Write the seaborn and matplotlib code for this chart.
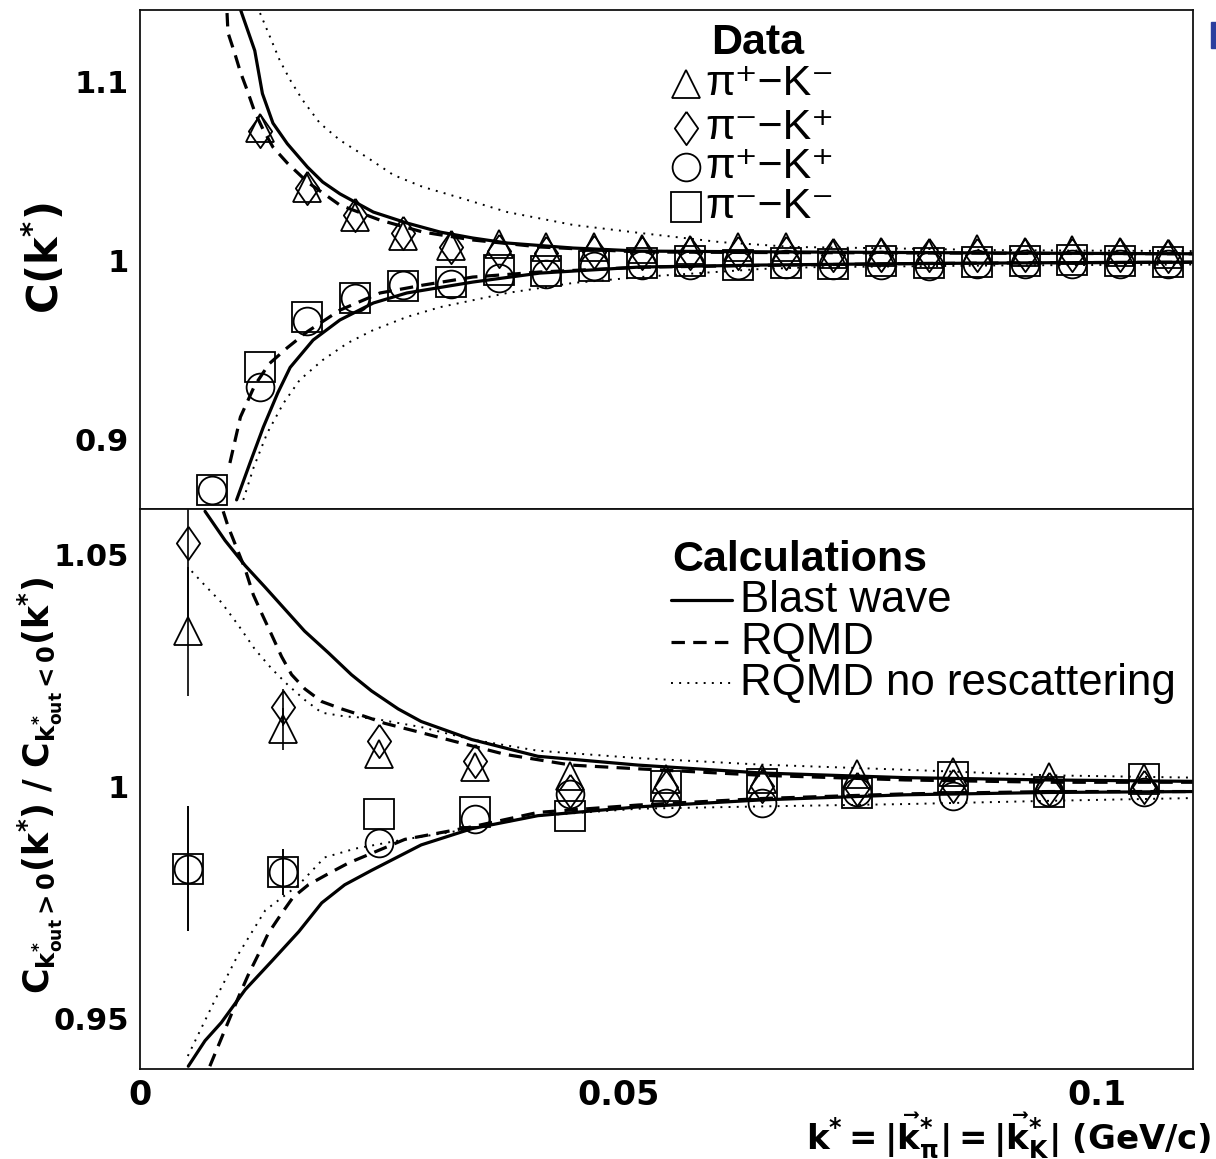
import numpy as np
import pandas as pd
import matplotlib
matplotlib.use("Agg")
import matplotlib.pyplot as plt
import seaborn as sns
from matplotlib.lines import Line2D
from matplotlib.patches import Rectangle

# ---------------- data: top panel (C(k*)) ----------------
k_top = [0.0075, 0.0125, 0.0175, 0.0225, 0.0275, 0.0325, 0.0375, 0.0425, 0.0475, 0.0525, 0.0575,
         0.0625, 0.0675, 0.0725, 0.0775, 0.0825, 0.0875, 0.0925, 0.0975, 0.1025, 0.1075]
top_tri = [np.nan, 1.074, 1.040, 1.024, 1.0134, 1.0078, 1.009, 1.0073, 1.0073, 1.006, 1.0056,
           1.0073, 1.0073, 1.0034, 1.0045, 1.0034, 1.006, 1.0045, 1.0056, 1.0045, 1.0034]
top_dia = [np.nan, 1.072, 1.040, 1.025, 1.015, 1.0073, 1.005, 1.004, 1.0045, 1.004, 1.004,
           1.004, 1.004, 1.003, 1.003, 1.003, 1.003, 1.003, 1.003, 1.003, 1.002]
top_circ = [0.8715, 0.929, 0.966, 0.979, 0.986, 0.9866, 0.990, 0.992, 0.9966, 0.997, 0.997,
            0.9975, 0.998, 0.997, 0.997, 0.9966, 0.998, 0.998, 0.998, 0.998, 0.998]
top_sq = [0.8715, 0.940, 0.968, 0.979, 0.9855, 0.9877, 0.9944, 0.9939, 0.9966, 0.9983, 0.9994,
          0.9975, 0.9985, 0.998, 0.9994, 0.9983, 0.999, 0.9995, 1.0, 0.9994, 0.9989]

top_bw_up_x = [0.0105, 0.0120, 0.0128, 0.0139, 0.0154, 0.0175, 0.0191, 0.0209, 0.0244, 0.0279, 0.0314, 0.0348, 0.0384, 0.0453, 0.0523, 0.0650, 0.0800, 0.0950, 0.1101]
top_bw_up_y = [1.140, 1.117, 1.093, 1.0765, 1.065, 1.052, 1.0436, 1.037, 1.0268, 1.0207, 1.0156, 1.0123, 1.0095, 1.0067, 1.0050, 1.0046, 1.0042, 1.0038, 1.0035]
top_bw_lo_x = [0.0101, 0.0115, 0.0129, 0.0144, 0.0157, 0.0181, 0.0209, 0.0244, 0.0279, 0.0348, 0.0418, 0.0523, 0.0650, 0.0800, 0.0950, 0.1101]
top_bw_lo_y = [0.866, 0.8866, 0.9067, 0.9257, 0.940, 0.9553, 0.9665, 0.976, 0.9816, 0.9877, 0.9927, 0.9961, 0.9972, 0.998, 0.9985, 0.9988]
top_rq_up_x = [0.0091, 0.0092, 0.0099, 0.0105, 0.0112, 0.0120, 0.0129, 0.0139, 0.0154, 0.0175, 0.0209, 0.0251, 0.0296, 0.0348, 0.0418, 0.0523, 0.0650, 0.0800, 0.0950, 0.1101]
top_rq_up_y = [1.138, 1.127, 1.1156, 1.105, 1.095, 1.0827, 1.0726, 1.0631, 1.0542, 1.0436, 1.0307, 1.0223, 1.0156, 1.0112, 1.0073, 1.0045, 1.0042, 1.0040, 1.0037, 1.0035]
top_rq_lo_x = [0.0094, 0.0105, 0.0120, 0.0135, 0.0154, 0.0175, 0.0209, 0.0251, 0.0296, 0.0348, 0.0418, 0.0523, 0.0650, 0.0800, 0.0950, 0.1101]
top_rq_lo_y = [0.8866, 0.9123, 0.930, 0.942, 0.951, 0.960, 0.972, 0.9816, 0.986, 0.9905, 0.9933, 0.996, 0.997, 0.998, 0.9985, 0.9988]
top_nr_up_x = [0.01255, 0.0136, 0.0146, 0.0157, 0.0170, 0.0188, 0.0209, 0.0237, 0.0265, 0.0296, 0.0332, 0.0384, 0.0453, 0.0523, 0.0607, 0.0683, 0.0764, 0.0900, 0.1101]
top_nr_up_y = [1.138, 1.1246, 1.1117, 1.1006, 1.0894, 1.0765, 1.067, 1.0575, 1.0475, 1.0408, 1.0352, 1.0268, 1.0196, 1.0151, 1.010, 1.0073, 1.0067, 1.0055, 1.005]
top_nr_lo_x = [0.0108, 0.0119, 0.0133, 0.0150, 0.0167, 0.0191, 0.0217, 0.0244, 0.0279, 0.0314, 0.0384, 0.0453, 0.0523, 0.0649, 0.0704, 0.0900, 0.1101]
top_nr_lo_y = [0.866, 0.8844, 0.9033, 0.920, 0.933, 0.9441, 0.9536, 0.9609, 0.9682, 0.9737, 0.9816, 0.9872, 0.9905, 0.9950, 0.996, 0.997, 0.9975]

# ---------------- data: bottom panel (ratio) ----------------
k_bot = [0.005, 0.015, 0.025, 0.035, 0.045, 0.055, 0.065, 0.075, 0.085, 0.095, 0.105]
bot_tri = [1.0335, 1.0125, 1.0070, 1.0043, 1.0023, 1.0017, 1.0017, 1.0028, 1.0032, 1.0022, 1.0020]
bot_dia = [1.0525, 1.0172, 1.0098, 1.0055, 0.9992, 1.0000, 1.0002, 0.9995, 1.0002, 0.9995, 1.0000]
bot_circ = [0.9824, 0.9816, 0.9879, 0.9930, 0.9985, 0.9966, 0.9966, 0.9990, 0.9980, 0.9990, 0.9990]
bot_sq = [0.9824, 0.9816, 0.9941, 0.9945, 0.9937, 1.0002, 1.0006, 0.9987, 1.0021, 0.9989, 1.0017]
bot_tri_err = [0.014, 0.0045, 0, 0, 0, 0, 0, 0, 0, 0, 0]
bot_dia_err = [0.016, 0.004, 0, 0, 0, 0, 0, 0, 0, 0, 0]
bot_circ_err = [0.0135, 0.005, 0, 0, 0, 0, 0, 0, 0, 0, 0]
bot_sq_err = [0.0135, 0.005, 0, 0, 0, 0, 0, 0, 0, 0, 0]

bot_bw_up_x = [0.0068, 0.0089, 0.0110, 0.0131, 0.0148, 0.0172, 0.0197, 0.0221, 0.0242, 0.0270, 0.0294, 0.0347, 0.0416, 0.0521, 0.0650, 0.0800, 0.0950, 0.1101]
bot_bw_up_y = [1.0594, 1.0531, 1.0477, 1.043, 1.0391, 1.0336, 1.0289, 1.0242, 1.0207, 1.0168, 1.0141, 1.0102, 1.0066, 1.0047, 1.003, 1.002, 1.0015, 1.0012]
bot_bw_lo_x = [0.00505, 0.0068, 0.0085, 0.0110, 0.0138, 0.0166, 0.0190, 0.0214, 0.0242, 0.0294, 0.0347, 0.0416, 0.0521, 0.0650, 0.0800, 0.0950, 0.1101]
bot_bw_lo_y = [0.9398, 0.9453, 0.9492, 0.9563, 0.9625, 0.9688, 0.975, 0.9789, 0.982, 0.9875, 0.991, 0.9938, 0.9957, 0.9972, 0.9983, 0.9988, 0.999]
bot_rq_up_x = [0.0087, 0.0092, 0.0110, 0.01185, 0.0127, 0.01376, 0.0148, 0.01585, 0.01725, 0.0190, 0.0211, 0.0235, 0.0256, 0.0294, 0.0329, 0.0382, 0.0451, 0.0521, 0.0650, 0.0800, 0.0950, 0.1101]
bot_rq_up_y = [1.0594, 1.0562, 1.0469, 1.0414, 1.0375, 1.0328, 1.0281, 1.0242, 1.0211, 1.0184, 1.0168, 1.0152, 1.0137, 1.0117, 1.0098, 1.007, 1.0047, 1.0039, 1.0025, 1.0015, 1.001, 1.001]
bot_rq_lo_x = [0.0073, 0.0103, 0.0113, 0.0124, 0.0134, 0.0148, 0.0160, 0.0176, 0.0197, 0.0218, 0.0277, 0.0347, 0.0416, 0.0521, 0.0650, 0.0800, 0.0950, 0.1101]
bot_rq_lo_y = [0.9398, 0.9547, 0.9594, 0.964, 0.9684, 0.9727, 0.9762, 0.9789, 0.9813, 0.9836, 0.9887, 0.9914, 0.9945, 0.9961, 0.9975, 0.9985, 0.999, 0.999]
bot_nr_up_x = [0.0054, 0.0068, 0.0085, 0.0103, 0.0120, 0.0138, 0.0155, 0.0172, 0.0190, 0.0214, 0.0242, 0.0294, 0.0347, 0.0416, 0.0521, 0.0586, 0.0650, 0.0800, 0.0950, 0.1101]
bot_nr_up_y = [1.0465, 1.0434, 1.0398, 1.0348, 1.0297, 1.0254, 1.0219, 1.0188, 1.016, 1.0152, 1.0148, 1.0129, 1.0102, 1.0078, 1.0062, 1.0055, 1.0048, 1.0037, 1.0025, 1.002]
bot_nr_lo_x = [0.0050, 0.0078, 0.0103, 0.0131, 0.0166, 0.0193, 0.0225, 0.0277, 0.0347, 0.0416, 0.0521, 0.0650, 0.0800, 0.0950, 0.1101]
bot_nr_lo_y = [0.942, 0.9539, 0.964, 0.9734, 0.9789, 0.9848, 0.9867, 0.9887, 0.991, 0.9938, 0.9953, 0.9958, 0.9963, 0.997, 0.9976]

data_labels = ["π⁺−K⁻", "π⁻−K⁺", "π⁺−K⁺", "π⁻−K⁻"]
calc_labels = ["Blast wave", "RQMD", "RQMD no rescattering"]

# ---------------- style ----------------
sns.set_theme(style="white")
plt.rcParams["font.family"] = ["DejaVu Sans"]
plt.rcParams["mathtext.fontset"] = "dejavusans"
for key in ("text.color", "axes.labelcolor", "xtick.color", "ytick.color", "axes.edgecolor"):
    plt.rcParams[key] = "black"

W, H = 1216, 1159
def fx(px):
    return px / W
def fy(py):
    return 1 - py / H

fig = plt.figure(figsize=(W / 100, H / 100), dpi=100)
fig.patch.set_facecolor("white")
ax1 = fig.add_axes([fx(140), fy(509), (1193 - 140) / W, (509 - 10) / H])
ax2 = fig.add_axes([fx(140), fy(1069), (1193 - 140) / W, (1069 - 509) / H])

SOLID = dict(linewidth=2.3, linestyle="-")
DASHED = dict(linewidth=2.3, linestyle=(0, (4.2, 2.6)))
DOTTED = dict(linewidth=1.4, linestyle=(0, (1.0, 3.2)))

diamond = [(0, 1), (0.7, 0), (0, -1), (-0.7, 0), (0, 1)]
MARKERS = [("^", 20), (diamond, 24), ("o", 20), ("s", 21)]


def curve(ax, xs, ys, style):
    sns.lineplot(x=xs, y=ys, ax=ax, color="black", estimator=None, sort=False, **style)


def points(ax, xs, ys, marker, ms):
    sns.lineplot(x=xs, y=ys, ax=ax, color="black", estimator=None, sort=False,
                 marker=marker, linestyle="none", ms=ms, mfc="none", mec="black", mew=1.3)


for ax, curves, series, errs in [
    (ax1,
     [(top_bw_up_x, top_bw_up_y, SOLID), (top_bw_lo_x, top_bw_lo_y, SOLID),
      (top_rq_up_x, top_rq_up_y, DASHED), (top_rq_lo_x, top_rq_lo_y, DASHED),
      (top_nr_up_x, top_nr_up_y, DOTTED), (top_nr_lo_x, top_nr_lo_y, DOTTED)],
     [(k_top, top_tri), (k_top, top_dia), (k_top, top_circ), (k_top, top_sq)], None),
    (ax2,
     [(bot_bw_up_x, bot_bw_up_y, SOLID), (bot_bw_lo_x, bot_bw_lo_y, SOLID),
      (bot_rq_up_x, bot_rq_up_y, DASHED), (bot_rq_lo_x, bot_rq_lo_y, DASHED),
      (bot_nr_up_x, bot_nr_up_y, DOTTED), (bot_nr_lo_x, bot_nr_lo_y, DOTTED)],
     [(k_bot, bot_tri), (k_bot, bot_dia), (k_bot, bot_circ), (k_bot, bot_sq)],
     [bot_tri_err, bot_dia_err, bot_circ_err, bot_sq_err]),
]:
    for xs, ys, st in curves:
        curve(ax, xs, ys, st)
    if errs is not None:
        for (xs, ys), e in zip(series, errs):
            ax.errorbar(xs, ys, yerr=e, fmt="none", ecolor="black", elinewidth=1.2, capsize=0)
    for (xs, ys), (m, ms) in zip(series, MARKERS):
        points(ax, xs, ys, m, ms)

# axes limits / ticks
for ax in (ax1, ax2):
    ax.set_xlim(0, 0.1101)
    ax.set_xlabel("")
    ax.set_ylabel("")
    for s in ax.spines.values():
        s.set_color("#111111")
        s.set_linewidth(1.3)
    ax.set_xticks([0.05, 0.1])
    ax.tick_params(axis="both", direction="in", color="black", width=1.1,
                   top=False, right=False)
    ax.tick_params(axis="y", labelsize=22)
    ax.tick_params(axis="x", labelsize=24)
    ax.set_facecolor("white")

ax1.set_ylim(0.8609, 1.1397)
ax1.set_yticks([0.9, 1.0, 1.1])
ax1.set_yticklabels(["0.9", "1", "1.1"])
ax1.tick_params(axis="y", length=27, pad=8)
ax1.tick_params(axis="x", length=8, labelbottom=False)

ax2.set_ylim(0.9392, 1.0599)
ax2.set_yticks([0.95, 1.0, 1.05])
ax2.set_yticklabels(["0.95", "1", "1.05"])
ax2.tick_params(axis="y", length=23, pad=8)
ax2.set_xticks([0, 0.05, 0.1])
ax2.set_xticklabels(["0", "0.05", "0.1"])
ax2.tick_params(axis="x", length=12, pad=7)
for ax in (ax1, ax2):
    for lab in ax.get_xticklabels() + ax.get_yticklabels():
        lab.set_fontweight("bold")

# axis titles
fig.text(fx(44), fy(258), r"$\mathbf{C(k^{*})}$", rotation=90, fontsize=30,
         ha="center", va="center")
fig.text(fx(40), fy(785),
         r"$\mathbf{C_{k^{*}_{out}>0}(k^{*})\ /\ C_{k^{*}_{out}<0}(k^{*})}$",
         rotation=90, fontsize=25, ha="center", va="center")
fig.text(fx(1212), fy(1136),
         r"$\mathbf{k^{*} = |\vec{k}^{*}_{\pi}| = |\vec{k}^{*}_{K}|\ (GeV/c)}$",
         fontsize=24.5, ha="right", va="center")

# legend: Data
LEG_FONT = ["Liberation Sans", "DejaVu Sans"]
fig.text(fx(758), fy(43), "Data", fontsize=31, fontweight="bold", family=LEG_FONT,
         ha="center", va="center")
rows_y = [84, 128, 167, 207]
for lab, (m, ms), ry in zip(data_labels, MARKERS, rows_y):
    fig.add_artist(Line2D([fx(686)], [fy(ry)], marker=m, ms=ms, mfc="none", mec="black",
                          mew=1.3, linestyle="none", transform=fig.transFigure))
    fig.text(fx(705), fy(ry), lab, fontsize=31, family=LEG_FONT, ha="left", va="center")

# legend: Calculations
fig.text(fx(672), fy(560), "Calculations", fontsize=31, fontweight="bold", family=LEG_FONT,
         ha="left", va="center")
for lab, st, ry in zip(calc_labels, [SOLID, DASHED, DOTTED], [600, 642, 683]):
    fig.add_artist(Line2D([fx(671), fx(732)], [fy(ry), fy(ry)], color="black",
                          transform=fig.transFigure, **st))
    fig.text(fx(740), fy(ry), lab, fontsize=31.5, family=LEG_FONT, ha="left", va="center")

# small blue mark at the right edge
fig.add_artist(Rectangle((fx(1211), fy(48)), fx(6), 26 / H, color="#2b3f9e",
                         transform=fig.transFigure))

fig.savefig("out.png", dpi=100, facecolor="white")
